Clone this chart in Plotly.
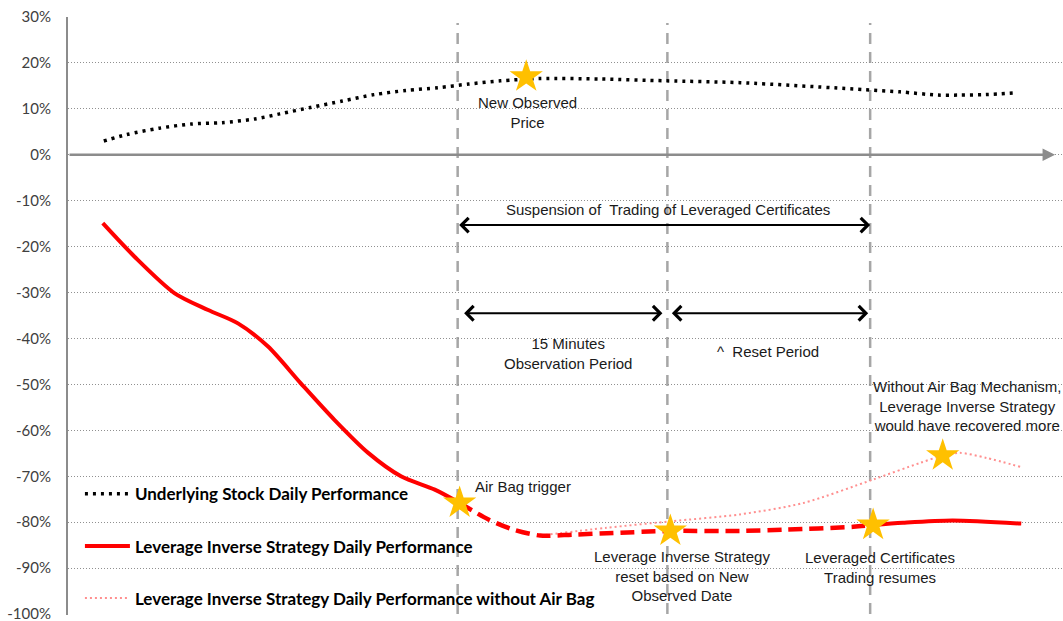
import plotly.graph_objects as go

# ---------------- data ----------------
# time axis (arbitrary trading-time units, 0..100)
stock_t = [3.6, 5.9, 9.2, 12.4, 15.5, 18.8, 21.3, 24.4, 27.6, 30.8, 34.0, 37.2,
           40.3, 43.5, 47.5, 53.5, 60.2, 67.6, 80.0, 83.7, 87.5, 89.7, 92.3, 95.5]
stock_v = [3.0, 4.4, 5.8, 6.7, 7.0, 7.8, 8.9, 10.3, 11.7, 13.1, 14.0, 14.6,
           15.4, 16.1, 16.6, 16.5, 16.1, 15.7, 14.2, 13.7, 13.0, 13.0, 13.1, 13.5]

lis_pre_t = [3.5, 6.7, 10.7, 14.1, 17.1, 20.1, 23.4, 26.8, 30.2, 33.5, 36.9, 39.4]
lis_pre_v = [-14.9, -22.2, -30.1, -33.8, -36.7, -41.7, -49.7, -57.7, -64.9, -70.0, -72.9, -75.8]

lis_susp_t = [39.4, 42.3, 44.8, 47.5, 50.8, 54.2, 60.6, 67.6, 72.3, 79.0, 81.0]
lis_susp_v = [-75.8, -79.4, -81.6, -82.9, -82.7, -82.4, -81.9, -81.9, -81.6, -81.0, -80.6]

lis_post_t = [81.0, 84.0, 89.0, 95.9]
lis_post_v = [-80.6, -80.1, -79.6, -80.3]

noab_t = [47.5, 54.2, 60.6, 67.6, 74.0, 81.0, 85.7, 88.0, 89.7, 92.4, 95.9]
noab_v = [-82.9, -81.2, -79.8, -78.3, -75.8, -70.7, -67.1, -65.5, -64.9, -66.0, -68.0]

star_t = [39.4, 46.1, 60.6, 81.0, 88.0]
star_v = [-75.8, 17.0, -81.9, -80.6, -65.5]

event_t = [39.2, 60.3, 80.7]   # air bag trigger, reset, trading resumes

tick_vals = [30, 20, 10, 0, -10, -20, -30, -40, -50, -60, -70, -80, -90, -100]
tick_text = ["30%", "20%", "10%", "0%", "-10%", "-20%", "-30%", "-40%", "-50%",
             "-60%", "-70%", "-80%", "-90%", "-100%"]

series_names = ["Underlying Stock Daily Performance",
                "Leverage Inverse Strategy Daily Performance",
                "Leverage Inverse Strategy Daily Performance without Air Bag"]

# ---------------- figure ----------------
fig = go.Figure()

RED = "#FF0000"
PINK = "#FF8F8F"
GREY = "#A6A6A6"
AXIS = "#8C8C8C"

fig.add_trace(go.Scatter(x=stock_t, y=stock_v, mode="lines", name=series_names[0],
                         line=dict(color="black", width=3.5, dash="3px,5px", shape="spline", smoothing=0.8),
                         legendgroup="a", legendrank=1, hoverinfo="skip"))
fig.add_trace(go.Scatter(x=noab_t, y=noab_v, mode="lines", name=series_names[2],
                         line=dict(color=PINK, width=2, dash="2px,3px", shape="spline", smoothing=0.8),
                         legendgroup="c", legendrank=3, hoverinfo="skip"))
fig.add_trace(go.Scatter(x=lis_pre_t, y=lis_pre_v, mode="lines", name=series_names[1],
                         line=dict(color=RED, width=4, shape="spline", smoothing=0.8),
                         legendgroup="b", legendrank=2, hoverinfo="skip"))
fig.add_trace(go.Scatter(x=lis_susp_t, y=lis_susp_v, mode="lines", showlegend=False,
                         line=dict(color=RED, width=4.5, dash="14px,7px", shape="spline", smoothing=0.8),
                         legendgroup="b", hoverinfo="skip"))
fig.add_trace(go.Scatter(x=lis_post_t, y=lis_post_v, mode="lines", showlegend=False,
                         line=dict(color=RED, width=4, shape="spline", smoothing=0.8),
                         legendgroup="b", hoverinfo="skip"))
fig.add_trace(go.Scatter(x=star_t, y=star_v, mode="markers", showlegend=False,
                         marker=dict(symbol="star", size=25, color="#FFC000",
                                     line=dict(width=0)), hoverinfo="skip"))

# vertical dashed event lines
for t in event_t:
    fig.add_shape(type="line", x0=t, x1=t, xref="x", yref="paper", y0=-0.03, y1=0.99,
                  line=dict(color=GREY, width=2.5, dash="11px,8px"), layer="below")

# zero axis with arrow
fig.add_annotation(x=99.3, y=0, ax=0, ay=0, xref="x", yref="y", axref="x", ayref="y",
                   text="", showarrow=True, arrowhead=2, arrowsize=1.0, arrowwidth=2.5,
                   arrowcolor=AXIS, standoff=0)

# period arrows
def period_arrow(t0, t1, y):
    fig.add_annotation(x=t1, y=y, ax=t0, ay=y, xref="x", yref="y", axref="x", ayref="y",
                       text="", showarrow=True, arrowside="end+start",
                       arrowhead=4, startarrowhead=4, arrowsize=1.4, startarrowsize=1.4,
                       arrowwidth=2, arrowcolor="black", standoff=0, startstandoff=0)

period_arrow(event_t[0], event_t[2], -15.3)
period_arrow(event_t[0] + 0.5, event_t[1] - 0.5, -34.5)
period_arrow(event_t[1] + 0.3, event_t[2] - 0.2, -34.5)

TXT = dict(family="Liberation Sans, Arial", size=15, color="#1a1a1a")

def label(x, y, text, xanchor="center"):
    fig.add_annotation(x=x, y=y, xref="x", yref="y", text=text, showarrow=False,
                       font=TXT, xanchor=xanchor, yanchor="middle", align="center")

label(46.2, 9.2, "New Observed<br>Price")
label(60.4, -12.0, "Suspension of  Trading of Leveraged Certificates")
label(50.3, -43.3, "15 Minutes<br>Observation Period")
label(70.4, -42.9, "^  Reset Period")
label(90.4, -54.8, "Without Air Bag Mechanism,<br>Leverage Inverse Strategy<br>would have recovered more")
label(40.7, -72.3, "Air Bag trigger", xanchor="left")
label(61.8, -91.6, "Leverage Inverse Strategy<br>reset based on New<br>Observed Date")
label(81.7, -89.8, "Leveraged Certificates<br>Trading resumes")

fig.update_layout(
    width=1063, height=621,
    margin=dict(l=68, r=1, t=17, b=6, autoexpand=False),
    paper_bgcolor="white", plot_bgcolor="white",
    showlegend=True,
    legend=dict(x=0.012, y=0.232, xanchor="left", yanchor="top",
                bgcolor="rgba(0,0,0,0)", borderwidth=0,
                font=dict(family="Lato", size=17, color="black", weight="bold"),
                tracegroupgap=27, traceorder="grouped", itemwidth=45),
    xaxis=dict(range=[0, 100], showgrid=False, zeroline=False, showticklabels=False,
               showline=False, ticks=""),
    yaxis=dict(range=[-100.2, 30], tickvals=tick_vals, ticktext=tick_text,
               showgrid=True, gridcolor="#909090", gridwidth=1, griddash="1px,2px",
               zeroline=False, showline=True, linecolor=AXIS, linewidth=2,
               ticks="", ticklabelstandoff=12, ticklabeloverflow="allow",
               tickfont=dict(family="Lato", size=15, color="#404040")),
)

fig.write_html("out.html", config={"displayModeBar": False},
               post_script="document.body.style.margin='0';document.body.style.overflow='hidden';")
